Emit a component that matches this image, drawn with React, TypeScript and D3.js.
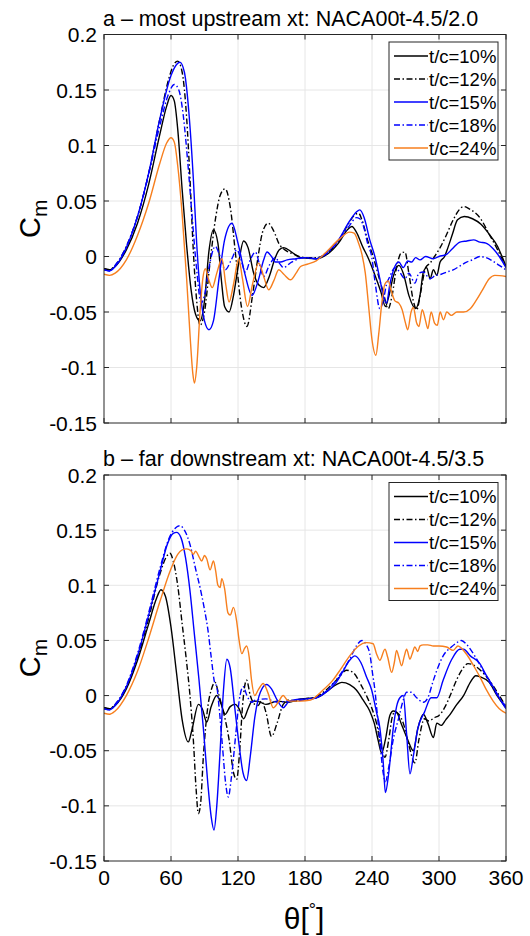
import React from "react";
import * as d3 from "d3";

type Pt = [number, number];

// Axis ticks
const thetaTicks = [0, 60, 120, 180, 240, 300, 360];
const cmTicks = [-0.15, -0.1, -0.05, 0, 0.05, 0.1, 0.15, 0.2];
const cmTickLabels = ["-0.15", "-0.1", "-0.05", "0", "0.05", "0.1", "0.15", "0.2"];

// Legend entries
const seriesNames = ["t/c=10%", "t/c=12%", "t/c=15%", "t/c=18%", "t/c=24%"];

const panelTitles = [
  "a \u2013 most upstream xt: NACA00t-4.5/2.0",
  "b \u2013 far downstream xt: NACA00t-4.5/3.5",
];

// ---- Panel a: most upstream position ----
const up10: Pt[] = [[0,-0.011],[5,-0.012],[10,-0.009],[20,0.006],[30,0.03],[40,0.065],[50,0.11],[56,0.135],[60,0.145],[63,0.14],[66,0.115],[70,0.06],[74,0.01],[78,-0.03],[82,-0.052],[86,-0.058],[90,-0.04],[94,0.005],[98,0.024],[102,0.012],[105,-0.02],[108,-0.045],[112,-0.05],[116,-0.035],[120,-0.01],[125,0.014],[129,0.008],[134,-0.015],[139,-0.026],[143,-0.028],[148,-0.018],[153,-0.002],[157,0.006],[161,0.008],[168,0.004],[176,-0.001],[190,-0.002],[200,0.002],[210,0.012],[218,0.024],[222,0.027],[226,0.022],[232,0.008],[236,0.0],[242,-0.015],[248,-0.032],[252,-0.045],[255,-0.036],[259,-0.018],[264,-0.008],[268,-0.015],[273,-0.035],[279,-0.047],[283,-0.035],[286,-0.014],[289,-0.01],[292,-0.02],[295,-0.012],[298,-0.017],[301,-0.005],[305,0.0],[308,0.008],[312,0.02],[316.6,0.033],[322.6,0.036],[330,0.034],[337.6,0.029],[345,0.02],[352.5,0.009],[356,0.001],[360,-0.009]];

const up12: Pt[] = [[0,-0.011],[5,-0.012],[10,-0.008],[20,0.009],[30,0.036],[40,0.075],[50,0.124],[58,0.16],[62,0.172],[66,0.176],[70,0.166],[74,0.125],[77,0.07],[80,0.005],[83,-0.04],[86,-0.062],[90,-0.05],[95,-0.005],[100,0.035],[104,0.055],[108.5,0.061],[113,0.045],[118,0.0],[123,-0.045],[128,-0.063],[133,-0.035],[138,0.0],[142,0.022],[147,0.03],[152,0.023],[157,0.011],[162,0.006],[170,0.002],[180,-0.001],[190,-0.001],[200,0.003],[210,0.014],[218,0.028],[224,0.037],[228,0.039],[231,0.033],[236,0.015],[241,0.0],[246,-0.018],[250,-0.032],[254.5,-0.047],[258,-0.035],[262,-0.01],[266,0.003],[269.5,0.004],[273,-0.015],[277,-0.04],[280,-0.048],[284,-0.03],[288,-0.01],[292,-0.006],[296,0.0],[301,0.008],[306,0.018],[312.7,0.033],[318,0.042],[322,0.045],[327,0.043],[336.6,0.035],[345,0.02],[352.5,0.006],[360,-0.01]];

const up15: Pt[] = [[0,-0.012],[5,-0.013],[10,-0.009],[20,0.008],[30,0.036],[40,0.075],[50,0.124],[60,0.163],[65,0.173],[68,0.175],[72,0.166],[76,0.13],[80,0.07],[83,0.012],[86,-0.03],[90,-0.058],[94,-0.066],[98,-0.058],[103,-0.02],[108,0.015],[114.6,0.03],[120,0.012],[126,-0.015],[132.6,-0.035],[138,-0.022],[143,-0.003],[146,0.004],[150,0.0],[153.5,-0.005],[158,-0.005],[164,-0.003],[172,-0.002],[180,-0.001],[190,-0.002],[200,0.004],[210,0.015],[220,0.032],[226,0.04],[229,0.042],[233,0.035],[238,0.015],[242.6,0.0],[247,-0.02],[250,-0.035],[253,-0.042],[256,-0.025],[260.5,-0.009],[264,-0.005],[268,-0.01],[272,-0.004],[275.5,-0.005],[279,-0.001],[283,-0.003],[288,0.0],[294.8,-0.002],[300,0.0],[306.8,0.002],[312,0.007],[318.7,0.013],[325,0.014],[331,0.015],[336.6,0.013],[342,0.012],[348.5,0.007],[354,0.0],[360,-0.01]];

const up18: Pt[] = [[0,-0.012],[5,-0.013],[10,-0.008],[20,0.009],[30,0.036],[40,0.074],[50,0.118],[58,0.147],[63,0.155],[67,0.15],[71,0.127],[75,0.085],[79,0.035],[83,-0.012],[87,-0.042],[90,-0.035],[94,-0.01],[99.6,0.009],[104,0.0],[108.6,-0.012],[114,-0.003],[119,0.006],[123,-0.004],[126.6,-0.014],[131,-0.003],[135.6,0.004],[139,-0.006],[143,-0.018],[148,-0.008],[153.5,-0.001],[157,-0.006],[160.7,-0.01],[168,-0.005],[180,-0.001],[190,-0.002],[200,0.003],[210,0.014],[220,0.028],[226,0.035],[229,0.034],[233,0.025],[236,0.012],[239.7,0.0],[243,-0.025],[247,-0.047],[250,-0.04],[253,-0.025],[256,-0.018],[260.5,-0.01],[264,-0.013],[269.5,-0.02],[273,-0.015],[278.4,-0.024],[282,-0.015],[286,-0.014],[291.8,-0.02],[297,-0.017],[302,-0.016],[307,-0.014],[312.7,-0.012],[318,-0.009],[324.7,-0.005],[330,-0.003],[336.6,0.0],[342,-0.001],[348,-0.004],[354,-0.008],[360,-0.012]];

const up24: Pt[] = [[0,-0.016],[5,-0.017],[10,-0.015],[20,-0.003],[30,0.019],[40,0.048],[50,0.084],[56,0.102],[60,0.107],[63,0.103],[66,0.082],[70,0.038],[74,-0.02],[77,-0.07],[79.5,-0.105],[81,-0.114],[83,-0.1],[86,-0.05],[88.5,-0.02],[90.7,-0.011],[93.5,-0.02],[97,-0.028],[101,-0.015],[105.6,-0.002],[109,-0.025],[112,-0.041],[116,-0.025],[120.6,-0.002],[124,-0.02],[128.5,-0.045],[133,-0.025],[138.5,-0.006],[143,-0.018],[147.5,-0.03],[152,-0.022],[156.5,-0.012],[161,-0.016],[167,-0.021],[172,-0.015],[176,-0.009],[182,-0.007],[190,-0.004],[200,0.005],[210,0.015],[220,0.022],[224,0.021],[228,0.012],[231,0.002],[234,-0.015],[237,-0.045],[240,-0.075],[243.5,-0.089],[246,-0.07],[249,-0.04],[251.5,-0.025],[254.5,-0.022],[257,-0.03],[260.5,-0.04],[264,-0.042],[267,-0.048],[270,-0.06],[272,-0.066],[275,-0.05],[277,-0.046],[280,-0.06],[282,-0.063],[285,-0.048],[288,-0.058],[290,-0.065],[293,-0.05],[296,-0.06],[298.5,-0.062],[301,-0.05],[304,-0.057],[307,-0.05],[311,-0.053],[316,-0.05],[322,-0.05],[328,-0.047],[333,-0.04],[339,-0.03],[345,-0.02],[350,-0.017],[360,-0.018]];

// ---- Panel b: far downstream position ----
const dn10: Pt[] = [[0,-0.011],[5,-0.012],[10,-0.009],[20,0.006],[30,0.032],[40,0.065],[47,0.088],[51,0.096],[55,0.09],[60,0.062],[65,0.02],[70,-0.022],[75.5,-0.042],[79,-0.03],[84.5,-0.008],[88,-0.012],[92,-0.024],[96,-0.01],[101,0.0],[105,-0.008],[108.5,-0.017],[113,-0.01],[117.5,-0.008],[121,-0.012],[125,-0.021],[129,-0.012],[132,-0.006],[137,-0.005],[145,-0.008],[155,-0.005],[165,-0.006],[176,-0.003],[190,-0.002],[200,0.004],[208,0.01],[213,0.012],[220,0.01],[226,0.005],[232,-0.004],[238,-0.014],[242,-0.025],[245.6,-0.041],[248.6,-0.052],[252,-0.04],[256,-0.018],[259,-0.014],[262,-0.015],[266,-0.025],[272,-0.04],[277,-0.05],[281,-0.03],[286,-0.017],[290,-0.025],[295,-0.038],[298,-0.025],[302,-0.027],[306,-0.022],[310,-0.017],[316,-0.008],[322,0.0],[328,0.012],[333,0.018],[337,0.017],[345,0.012],[352,0.0],[360,-0.011]];

const dn12: Pt[] = [[0,-0.011],[5,-0.012],[10,-0.008],[20,0.008],[30,0.035],[40,0.07],[50,0.11],[56,0.126],[59,0.129],[62,0.122],[66,0.1],[70,0.065],[74,0.03],[77,0.0],[80,-0.04],[82.5,-0.085],[84.5,-0.107],[86.5,-0.098],[89,-0.055],[93,-0.01],[96,0.005],[99.4,0.012],[103,0.0],[107,-0.015],[112,-0.04],[116,-0.07],[118.8,-0.076],[121.5,-0.05],[124,-0.01],[127.7,0.014],[131,0.0],[135,-0.008],[138,-0.009],[141,-0.005],[145,-0.015],[150,-0.037],[155,-0.025],[160.5,-0.008],[166,-0.004],[172,-0.005],[180,-0.003],[190,-0.001],[200,0.006],[210,0.016],[217,0.023],[223,0.021],[230,0.01],[235,0.0],[239.7,-0.011],[244,-0.025],[248,-0.045],[251.6,-0.056],[255,-0.04],[258,-0.02],[260.5,-0.015],[264,-0.017],[268,-0.025],[273,-0.045],[278.4,-0.061],[282,-0.04],[287,-0.021],[291,-0.023],[296,-0.02],[300,-0.018],[305,-0.011],[310,0.0],[315.7,0.014],[321,0.024],[326,0.029],[332,0.027],[340,0.02],[348.5,0.009],[354,0.0],[360,-0.01]];

const dn15: Pt[] = [[0,-0.012],[5,-0.013],[10,-0.009],[20,0.008],[30,0.036],[40,0.073],[50,0.112],[57,0.138],[62,0.147],[65,0.148],[69,0.143],[73,0.125],[77,0.095],[81,0.055],[85,0.015],[89,-0.03],[93,-0.08],[96,-0.11],[98.5,-0.122],[101,-0.1],[104,-0.05],[107,0.005],[110,0.033],[113,0.025],[117,-0.01],[121,-0.045],[124.5,-0.07],[127.7,-0.077],[131,-0.055],[135,-0.02],[140,0.003],[145.6,0.01],[150,0.006],[155,-0.004],[160.5,-0.011],[165,-0.006],[170,-0.004],[180,-0.003],[190,-0.002],[200,0.004],[208,0.012],[214,0.022],[220,0.032],[224.7,0.036],[230,0.03],[235,0.017],[239.7,0.005],[244,-0.015],[247,-0.029],[250,-0.06],[252,-0.088],[255,-0.07],[259,-0.03],[262,-0.01],[265,-0.002],[268,0.0],[271,-0.035],[274,-0.071],[277,-0.055],[281,-0.03],[287,-0.015],[293,-0.002],[298,-0.002],[303.7,0.014],[311,0.032],[318.6,0.042],[322,0.042],[328,0.036],[336.6,0.029],[342,0.019],[348.5,0.008],[354,-0.002],[360,-0.012]];

const dn18: Pt[] = [[0,-0.012],[5,-0.013],[10,-0.008],[20,0.009],[30,0.038],[40,0.075],[50,0.115],[58,0.142],[64,0.152],[68,0.154],[72,0.15],[77,0.137],[82,0.115],[86,0.098],[90,0.078],[93,0.06],[96,0.035],[99,0.012],[101,0.008],[103,-0.01],[106,-0.045],[109,-0.08],[111.3,-0.092],[114,-0.075],[118,-0.035],[121,-0.005],[124.7,0.008],[128,0.0],[132,-0.006],[136,-0.004],[145,-0.003],[155,-0.006],[165,-0.005],[180,-0.004],[190,-0.002],[200,0.005],[210,0.017],[220,0.033],[226,0.045],[231,0.05],[235,0.046],[238,0.038],[240.5,0.02],[242.6,0.005],[245,-0.02],[247,-0.041],[250,-0.07],[252,-0.078],[255,-0.065],[259,-0.04],[264,-0.02],[268,-0.004],[271,0.003],[275,0.003],[280,-0.002],[286,-0.006],[290,-0.002],[295,0.014],[300,0.028],[303.7,0.036],[311,0.044],[316,0.048],[320,0.05],[325,0.046],[332,0.036],[342.6,0.017],[350,0.004],[356,-0.005],[360,-0.01]];

const dn24: Pt[] = [[0,-0.016],[5,-0.017],[10,-0.014],[20,0.0],[30,0.022],[40,0.052],[50,0.085],[60,0.115],[66,0.128],[70,0.132],[74,0.133],[78,0.131],[80,0.128],[82,0.131],[85,0.126],[87.5,0.122],[90,0.127],[92,0.124],[95,0.114],[98,0.122],[100,0.113],[102,0.1],[104,0.098],[105.5,0.106],[108,0.097],[111,0.075],[113,0.073],[116,0.08],[119,0.066],[121,0.05],[123.4,0.038],[126,0.043],[127.7,0.045],[130,0.035],[132,0.015],[135,0.0],[138,0.005],[142.6,0.011],[147,0.002],[151.6,-0.011],[156,-0.006],[160.5,0.0],[164,-0.004],[167,-0.005],[176,-0.005],[185,-0.004],[195,0.004],[205,0.014],[212,0.024],[220,0.036],[228,0.045],[235,0.048],[241,0.047],[244,0.038],[247,0.032],[251.6,0.042],[254,0.035],[257.6,0.021],[260,0.03],[262,0.041],[264,0.035],[266.5,0.027],[269,0.036],[271,0.042],[274,0.033],[276,0.038],[278.4,0.044],[281,0.04],[283,0.045],[286,0.046],[290,0.046],[295,0.045],[300,0.045],[306.8,0.044],[312.7,0.041],[317,0.045],[320,0.043],[325,0.037],[331,0.027],[336.6,0.017],[342,0.006],[348.5,-0.005],[354,-0.012],[360,-0.016]];

const upstreamSeries = [up10, up12, up15, up18, up24];
const downstreamSeries = [dn10, dn12, dn15, dn18, dn24];

// Line styles for the five thicknesses
const lineColors = ["#000000", "#000000", "#0000ff", "#0000ff", "#f77f1e"];
const DASH_DOT = "6,2.5,1.5,2.5";
const lineDashes = [null, DASH_DOT, null, DASH_DOT, null];

const FONT = "'Liberation Sans', Arial, Helvetica, sans-serif";
const W = 530;
const H = 936;
const LEFT = 104;
const RIGHT = 506;

interface PanelProps {
  id: string;
  top: number;
  bottom: number;
  title: string;
  series: Pt[][];
}

function Panel({ id, top, bottom, title, series }: PanelProps) {
  const x = d3.scaleLinear().domain([0, 360]).range([LEFT, RIGHT]);
  const y = d3.scaleLinear().domain([-0.15, 0.2]).range([bottom, top]);
  const line = d3
    .line<Pt>()
    .x((d) => x(d[0]))
    .y((d) => y(d[1]))
    .curve(d3.curveMonotoneX);

  const axisColor = "#262626";
  const gridColor = "#e6e6e6";
  const tickLen = 5;

  const legX = 389;
  const legY = top + 7.5;
  const legW = 109;
  const rowH = 23;
  const legH = rowH * seriesNames.length + 3;

  return (
    <g>
      <defs>
        <clipPath id={`clip-${id}`}>
          <rect x={LEFT} y={top} width={RIGHT - LEFT} height={bottom - top} />
        </clipPath>
      </defs>
      <rect x={LEFT} y={top} width={RIGHT - LEFT} height={bottom - top} fill="#ffffff" />
      {/* grid */}
      {thetaTicks.slice(1, -1).map((t) => (
        <line key={`gx${t}`} x1={x(t)} x2={x(t)} y1={top} y2={bottom} stroke={gridColor} strokeWidth={1} />
      ))}
      {cmTicks.slice(1, -1).map((c) => (
        <line key={`gy${c}`} x1={LEFT} x2={RIGHT} y1={y(c)} y2={y(c)} stroke={gridColor} strokeWidth={1} />
      ))}
      {/* curves */}
      <g clipPath={`url(#clip-${id})`}>
        {series.map((s, i) => (
          <path
            key={i}
            d={line(s) || ""}
            fill="none"
            stroke={lineColors[i]}
            strokeWidth={1.4}
            strokeDasharray={lineDashes[i] || undefined}
            strokeLinejoin="round"
          />
        ))}
      </g>
      {/* box and inward ticks */}
      <rect x={LEFT} y={top} width={RIGHT - LEFT} height={bottom - top} fill="none" stroke={axisColor} strokeWidth={1} />
      {thetaTicks.map((t) => (
        <g key={`tx${t}`}>
          <line x1={x(t)} x2={x(t)} y1={bottom} y2={bottom - tickLen} stroke={axisColor} />
          <line x1={x(t)} x2={x(t)} y1={top} y2={top + tickLen} stroke={axisColor} />
        </g>
      ))}
      {cmTicks.map((c) => (
        <g key={`ty${c}`}>
          <line x1={LEFT} x2={LEFT + tickLen} y1={y(c)} y2={y(c)} stroke={axisColor} />
          <line x1={RIGHT} x2={RIGHT - tickLen} y1={y(c)} y2={y(c)} stroke={axisColor} />
        </g>
      ))}
      {/* y tick labels */}
      {cmTicks.map((c, i) => (
        <text
          key={`ly${c}`}
          x={LEFT - 7}
          y={y(c)}
          dy="0.36em"
          textAnchor="end"
          fontFamily={FONT}
          fontSize={21}
          fill="#000"
        >
          {cmTickLabels[i]}
        </text>
      ))}
      {/* title */}
      <text x={LEFT - 1} y={top - 9} fontFamily={FONT} fontSize={21.5} fill="#000">
        {title}
      </text>
      {/* y label */}
      <text
        transform={`translate(40, ${(top + bottom) / 2 - 10}) rotate(-90)`}
        textAnchor="middle"
        fontFamily={FONT}
        fontSize={29}
        fill="#000"
      >
        C<tspan fontSize={21} dy={7}>m</tspan>
      </text>
      {/* legend */}
      <rect x={legX} y={legY} width={legW} height={legH} fill="#ffffff" stroke={axisColor} strokeWidth={1} />
      {seriesNames.map((name, i) => {
        const cy = legY + 14 + i * rowH;
        return (
          <g key={name}>
            <line
              x1={legX + 5}
              x2={legX + 39}
              y1={cy}
              y2={cy}
              stroke={lineColors[i]}
              strokeWidth={1.4}
              strokeDasharray={lineDashes[i] || undefined}
            />
            <text x={legX + 40} y={cy} dy="0.36em" fontFamily={FONT} fontSize={18.5} fill="#000">
              {name}
            </text>
          </g>
        );
      })}
    </g>
  );
}

export default function App() {
  const xBottom = d3.scaleLinear().domain([0, 360]).range([LEFT, RIGHT]);
  const lowerBottom = 861;
  return (
    <svg
      width={W}
      height={H}
      viewBox={`0 0 ${W} ${H}`}
      style={{ position: "absolute", left: 0, top: 0, background: "#ffffff" }}
    >
      <rect x={0} y={0} width={W} height={H} fill="#ffffff" />
      <Panel id="a" top={34.5} bottom={423} title={panelTitles[0]} series={upstreamSeries} />
      <Panel id="b" top={475} bottom={lowerBottom} title={panelTitles[1]} series={downstreamSeries} />
      {thetaTicks.map((t) => (
        <text
          key={`lx${t}`}
          x={xBottom(t)}
          y={lowerBottom + 24}
          textAnchor="middle"
          fontFamily={FONT}
          fontSize={21}
          fill="#000"
        >
          {t}
        </text>
      ))}
      <text x={304} y={929} textAnchor="middle" fontFamily={FONT} fontSize={30} fill="#000">
        θ[<tspan fontSize={18} dy={-13}>°</tspan><tspan dy={13}>]</tspan>
      </text>
    </svg>
  );
}
